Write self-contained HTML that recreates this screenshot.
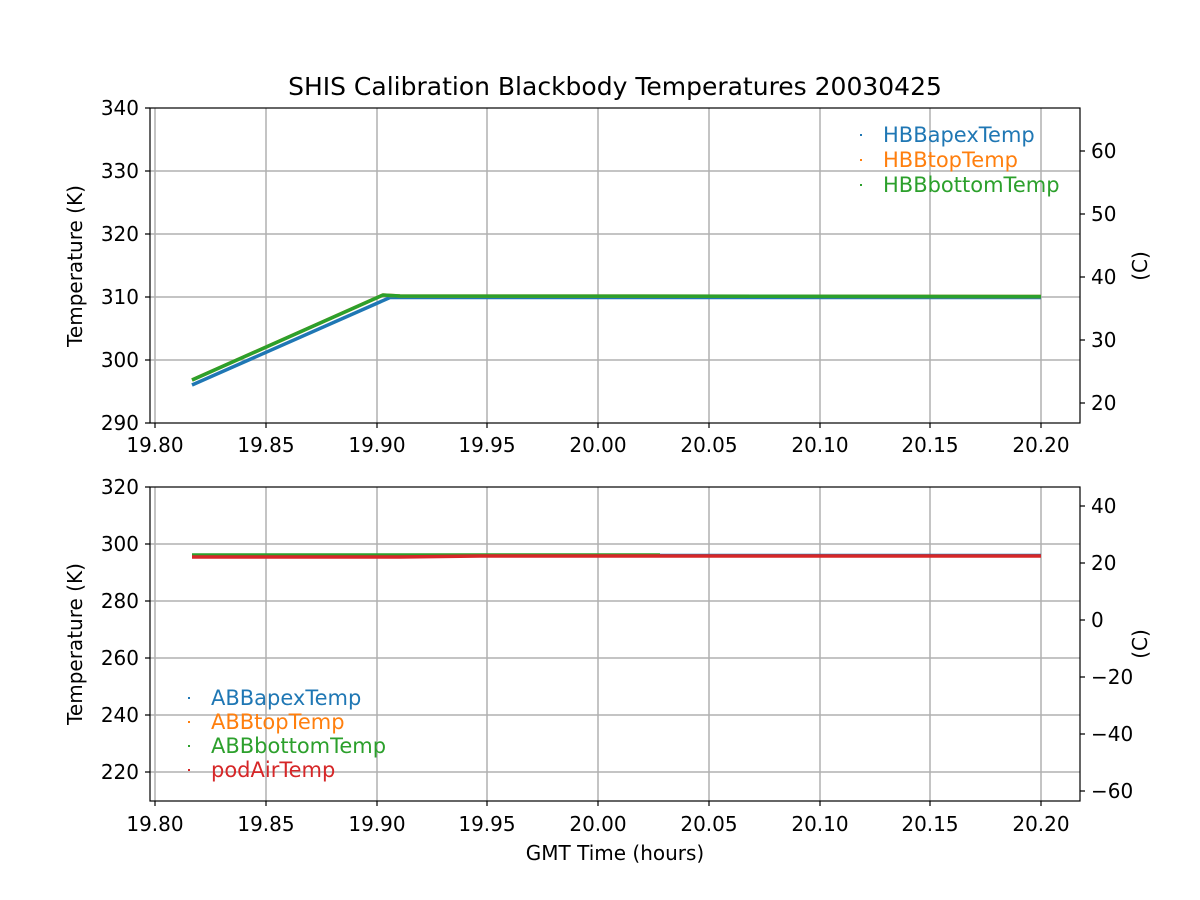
<!DOCTYPE html>
<html><head><meta charset="utf-8"><style>body{margin:0;background:#fff}svg{display:block}text{font-family:"DejaVu Sans","Liberation Sans",sans-serif;font-size:20px;fill:#000}</style></head><body>
<svg width="1200" height="900" xmlns="http://www.w3.org/2000/svg">
<g stroke="#b0b0b0" stroke-width="1.5">
<line x1="155" y1="108" x2="155" y2="423"/><line x1="266" y1="108" x2="266" y2="423"/><line x1="377" y1="108" x2="377" y2="423"/><line x1="487" y1="108" x2="487" y2="423"/><line x1="598" y1="108" x2="598" y2="423"/><line x1="709" y1="108" x2="709" y2="423"/><line x1="820" y1="108" x2="820" y2="423"/><line x1="930" y1="108" x2="930" y2="423"/><line x1="1041" y1="108" x2="1041" y2="423"/>
<line x1="150" y1="171" x2="1080" y2="171"/><line x1="150" y1="234" x2="1080" y2="234"/><line x1="150" y1="297" x2="1080" y2="297"/><line x1="150" y1="360" x2="1080" y2="360"/>
<line x1="155" y1="487" x2="155" y2="801"/><line x1="266" y1="487" x2="266" y2="801"/><line x1="377" y1="487" x2="377" y2="801"/><line x1="487" y1="487" x2="487" y2="801"/><line x1="598" y1="487" x2="598" y2="801"/><line x1="709" y1="487" x2="709" y2="801"/><line x1="820" y1="487" x2="820" y2="801"/><line x1="930" y1="487" x2="930" y2="801"/><line x1="1041" y1="487" x2="1041" y2="801"/>
<line x1="150" y1="544" x2="1080" y2="544"/><line x1="150" y1="601" x2="1080" y2="601"/><line x1="150" y1="658" x2="1080" y2="658"/><line x1="150" y1="715" x2="1080" y2="715"/><line x1="150" y1="772" x2="1080" y2="772"/>
</g>
<g fill="none" stroke-width="3.5">
<polyline stroke="#1f77b4" points="192,385 390,297.5 1041,297.5"/>
<polyline stroke="#ff7f0e" points="192,380 383,295 400,296 1041,296.5"/>
<polyline stroke="#2ca02c" points="192,380 383,295 400,296 1041,296.5"/>
<polyline stroke="#1f77b4" points="192,555.5 1041,555.5"/>
<polyline stroke="#2ca02c" points="192,555 660,555"/>
<polyline stroke="#d62728" points="192,557 400,557 480,556 1041,556"/>
</g>
<g fill="none" stroke="#000" stroke-width="1.2">
<rect x="150" y="108" width="930" height="315"/><rect x="150" y="487" width="930" height="314"/>
</g>
<g stroke="#000" stroke-width="1.2">
<path d="M155,423v5M266,423v5M377,423v5M487,423v5M598,423v5M709,423v5M820,423v5M930,423v5M1041,423v5"/>
<path d="M155,801v5M266,801v5M377,801v5M487,801v5M598,801v5M709,801v5M820,801v5M930,801v5M1041,801v5"/>
<path d="M150,108h-5M150,171h-5M150,234h-5M150,297h-5M150,360h-5M150,423h-5"/>
<path d="M1080,151h5M1080,214h5M1080,277h5M1080,340h5M1080,403h5"/>
<path d="M150,487h-5M150,544h-5M150,601h-5M150,658h-5M150,715h-5M150,772h-5"/>
<path d="M1080,506h5M1080,563h5M1080,620h5M1080,677h5M1080,734h5M1080,791h5"/>
</g>
<text x="615" y="95" text-anchor="middle" style="font-size:25px">SHIS Calibration Blackbody Temperatures 20030425</text>
<g text-anchor="middle">
<text x="155" y="452">19.80</text><text x="266" y="452">19.85</text><text x="377" y="452">19.90</text><text x="487" y="452">19.95</text><text x="598" y="452">20.00</text><text x="709" y="452">20.05</text><text x="820" y="452">20.10</text><text x="930" y="452">20.15</text><text x="1041" y="452">20.20</text>
<text x="155" y="831">19.80</text><text x="266" y="831">19.85</text><text x="377" y="831">19.90</text><text x="487" y="831">19.95</text><text x="598" y="831">20.00</text><text x="709" y="831">20.05</text><text x="820" y="831">20.10</text><text x="930" y="831">20.15</text><text x="1041" y="831">20.20</text>
<text x="615" y="860">GMT Time (hours)</text>
</g>
<g text-anchor="end">
<text x="139" y="115">340</text><text x="139" y="178">330</text><text x="139" y="241">320</text><text x="139" y="304">310</text><text x="139" y="367">300</text><text x="139" y="430">290</text>
<text x="139" y="494">320</text><text x="139" y="551">300</text><text x="139" y="608">280</text><text x="139" y="665">260</text><text x="139" y="722">240</text><text x="139" y="779">220</text>
</g>
<g>
<text x="1091" y="158">60</text><text x="1091" y="221">50</text><text x="1091" y="284">40</text><text x="1091" y="347">30</text><text x="1091" y="410">20</text>
<text x="1091" y="513">40</text><text x="1091" y="570">20</text><text x="1091" y="627">0</text><text x="1091" y="684">−20</text><text x="1091" y="741">−40</text><text x="1091" y="798">−60</text>
</g>
<text transform="translate(82,266) rotate(-90)" text-anchor="middle">Temperature (K)</text>
<text transform="translate(82,644) rotate(-90)" text-anchor="middle">Temperature (K)</text>
<text transform="translate(1147,266) rotate(-90)" text-anchor="middle">(C)</text>
<text transform="translate(1147,644) rotate(-90)" text-anchor="middle">(C)</text>
<g>
<rect x="860" y="134" width="2" height="2" fill="#1f77b4"/><text x="883" y="142" style="fill:#1f77b4;font-size:21px">HBBapexTemp</text>
<rect x="860" y="159" width="2" height="2" fill="#ff7f0e"/><text x="883" y="167" style="fill:#ff7f0e;font-size:21px">HBBtopTemp</text>
<rect x="860" y="184" width="2" height="2" fill="#2ca02c"/><text x="883" y="192" style="fill:#2ca02c;font-size:21px">HBBbottomTemp</text>
<rect x="188" y="697" width="2" height="2" fill="#1f77b4"/><text x="211" y="705" style="fill:#1f77b4;font-size:21px">ABBapexTemp</text>
<rect x="188" y="721" width="2" height="2" fill="#ff7f0e"/><text x="211" y="729" style="fill:#ff7f0e;font-size:21px">ABBtopTemp</text>
<rect x="188" y="745" width="2" height="2" fill="#2ca02c"/><text x="211" y="753" style="fill:#2ca02c;font-size:21px">ABBbottomTemp</text>
<rect x="188" y="769" width="2" height="2" fill="#d62728"/><text x="211" y="777" style="fill:#d62728;font-size:21px">podAirTemp</text>
</g>
</svg>
</body></html>
